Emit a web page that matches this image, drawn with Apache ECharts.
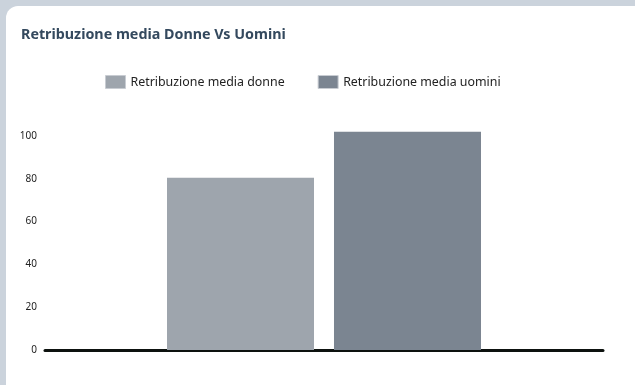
<!DOCTYPE html>
<html><head><meta charset="utf-8">
<script src="https://cdn.jsdelivr.net/npm/echarts@6/dist/echarts.min.js"></script>
<style>html,body{margin:0;padding:0;background:#cbd3dc;}#c{width:635px;height:385px;}</style>
</head><body><div id="c"></div>
<script>
const categories = [''];
const seriesNames = ['Retribuzione media donne', 'Retribuzione media uomini'];
const donne = [80.4];
const uomini = [101.9];
const yTicks = [0, 20, 40, 60, 80, 100];
const title = 'Retribuzione media Donne Vs Uomini';

const chart = echarts.init(document.getElementById('c'), null, {renderer: 'canvas'});
chart.setOption({
  animation: false,
  graphic: [{type: 'rect', z: -10, shape: {x: 6, y: 6, width: 640, height: 400, r: 12}, style: {fill: '#ffffff'}}],
  title: {text: title, left: 16, top: 23, textStyle: {fontFamily: 'Noto Sans', fontWeight: 'bold', fontSize: 14.3, color: '#34495e'}},
  legend: {left: 100, top: 70, itemWidth: 20, itemHeight: 13, itemGap: 33, icon: 'rect',
    itemStyle: {borderColor: '#c8ccd2', borderWidth: 1},
    textStyle: {fontFamily: 'Noto Sans', fontSize: 12.4, color: '#222'}, data: seriesNames},
  grid: {left: 45, right: 32, top: 93, bottom: 35},
  xAxis: {type: 'category', data: categories, axisTick: {show: false}, axisLabel: {show: false},
    axisLine: {lineStyle: {color: '#0d120f', width: 3}}},
  yAxis: {type: 'value', min: 0, max: 120, interval: 20, splitLine: {show: false},
    axisLabel: {showMaxLabel: false, margin: 8, fontFamily: 'Noto Sans', fontSize: 10, color: '#222',
      formatter: v => yTicks.includes(v) ? String(v) : ''}},
  series: [
    {name: seriesNames[0], type: 'bar', data: donne, barWidth: 147, barGap: '13.6%', itemStyle: {color: '#9ea5ad'}},
    {name: seriesNames[1], type: 'bar', data: uomini, barWidth: 147, itemStyle: {color: '#7b8591'}}
  ]
});
</script></body></html>
